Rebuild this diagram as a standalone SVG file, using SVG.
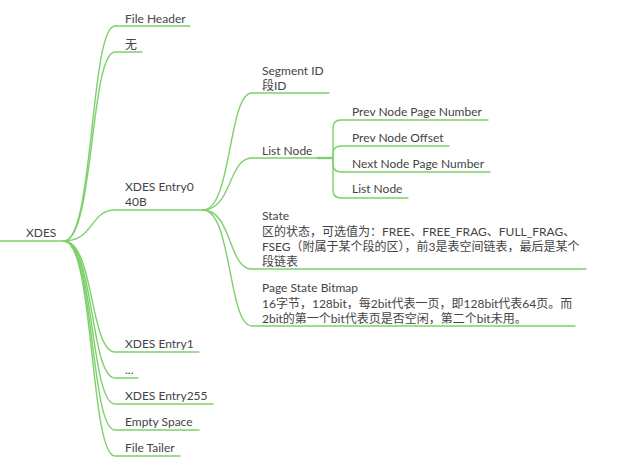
<svg xmlns="http://www.w3.org/2000/svg" width="623" height="468" viewBox="0 0 623 468">
<style>
text{font-family:"Lato","Noto Sans CJK SC",sans-serif;font-size:12px;fill:#444}
.c{fill:none;stroke:#7ed06c;stroke-width:1.4;stroke-linecap:round}
</style>
<rect width="623" height="468" fill="#fff"/>
<g id="connectors">
<path class="c" d="M0,241 H64"/>
<path class="c" d="M64,241 C94,241 90,26 115,26 H190"/>
<path class="c" d="M64,241 C94,241 90,52 115,52 H142"/>
<path class="c" d="M64,241 C94,241 90,210 115,210 H205"/>
<path class="c" d="M64,241 C94,241 90,352 115,352 H199"/>
<path class="c" d="M64,241 C94,241 90,378 115,378 H138"/>
<path class="c" d="M64,241 C94,241 90,404 115,404 H213"/>
<path class="c" d="M64,241 C94,241 90,430 115,430 H199"/>
<path class="c" d="M64,241 C94,241 90,456 115,456 H180"/>
<path class="c" d="M203,210 C232,210 228,93 252,93 H329"/>
<path class="c" d="M203,210 C232,210 228,158 252,158 H333"/>
<path class="c" d="M203,210 C232,210 228,269 252,269 H586"/>
<path class="c" d="M203,210 C232,210 228,326 252,326 H575"/>
<path d="M317,158 H333" fill="none" stroke="#7ed06c" stroke-width="2.4"/>
<path class="c" d="M333,158 V128 Q333,120 341,120 H488"/>
<path class="c" d="M333,158 V154 Q333,146 341,146 H449"/>
<path class="c" d="M333,158 V164 Q333,172 341,172 H490"/>
<path class="c" d="M333,158 V190 Q333,198 341,198 H408"/>
</g>
<g id="root"><text x="26" y="237">XDES</text></g>
<g id="file-header"><text x="125" y="23">File Header</text></g>
<g id="none"><text x="125" y="49">无</text></g>
<g id="entry0"><text x="125" y="191">XDES Entry0</text><text x="125" y="206">40B</text></g>
<g id="segment-id"><text x="262" y="75">Segment ID</text><text x="262" y="90">段ID</text></g>
<g id="list-node"><text x="262" y="155">List Node</text></g>
<g id="prev-page"><text x="352" y="116">Prev Node Page Number</text></g>
<g id="prev-offset"><text x="352" y="142">Prev Node Offset</text></g>
<g id="next-page"><text x="352" y="168">Next Node Page Number</text></g>
<g id="list-node-2"><text x="352" y="193">List Node</text></g>
<g id="state"><text x="262" y="220">State</text><text x="262" y="236">区的状态，可选值为：FREE、FREE_FRAG、FULL_FRAG、</text><text x="262" y="251">FSEG（附属于某个段的区），前3是表空间链表，最后是某个</text><text x="262" y="266">段链表</text></g>
<g id="bitmap"><text x="262" y="292">Page State Bitmap</text><text x="262" y="308">16字节，128bit，每2bit代表一页，即128bit代表64页。而</text><text x="262" y="323">2bit的第一个bit代表页是否空闲，第二个bit未用。</text></g>
<g id="entry1"><text x="125" y="348">XDES Entry1</text></g>
<g id="dots"><text x="125" y="374">...</text></g>
<g id="entry255"><text x="125" y="400">XDES Entry255</text></g>
<g id="empty-space"><text x="125" y="426">Empty Space</text></g>
<g id="file-tailer"><text x="125" y="452">File Tailer</text></g>
</svg>
